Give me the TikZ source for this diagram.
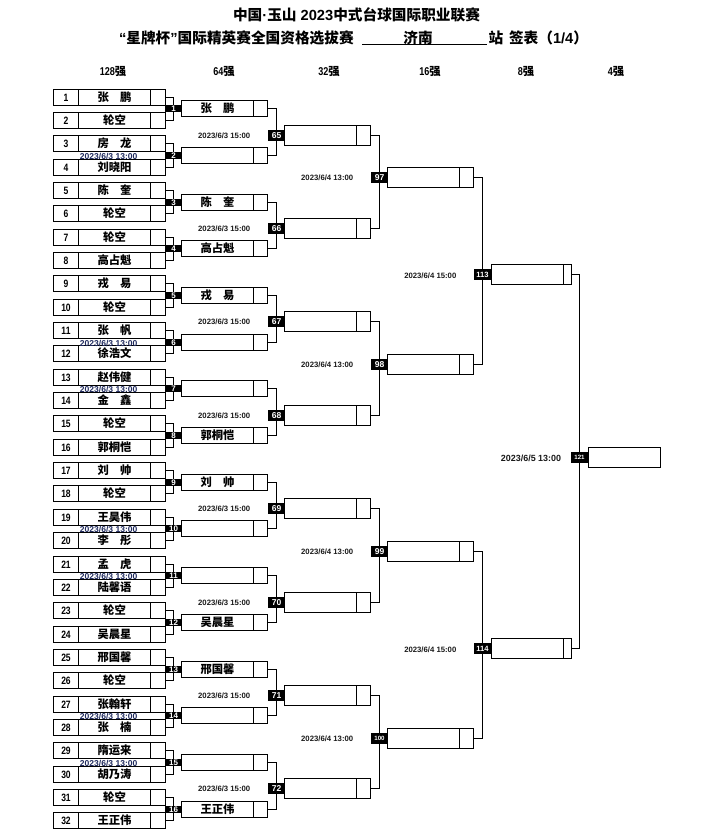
\documentclass[tikz,border=0pt]{standalone}
\usepackage{fontspec}
\setmainfont{Liberation Sans}
\newfontfamily\cjk{Noto Sans CJK SC}
\usetikzlibrary{backgrounds}
\definecolor{dnavy}{HTML}{1F2A5E}
\definecolor{dgray}{HTML}{1A1A1A}
\newcommand{\nrw}[1]{\scalebox{0.8}[1]{#1}}
\begin{document}
\begin{tikzpicture}[x=0.75pt,y=-0.75pt,
  every node/.style={inner sep=0pt,outer sep=0pt},
  bx/.style={draw=black,line width=1pt,fill=white,rectangle},
  pbox/.style={bx,minimum width=84pt,minimum height=12pt},
  wbox/.style={bx,minimum width=64.5pt,minimum height=12pt},
  tbox/.style={bx,minimum width=64.5pt,minimum height=15pt},
  ebox/.style={bx,minimum width=60pt,minimum height=15pt},
  fbox/.style={bx,minimum width=54pt,minimum height=15pt},
  labA/.style={fill=black,text=white,minimum width=12.75pt,minimum height=5.6pt,font=\bfseries\fontsize{6}{6}\selectfont},
  labB/.style={fill=black,text=white,minimum width=12.75pt,minimum height=8.25pt,font=\bfseries\fontsize{6.4}{6.4}\selectfont},
  nm/.style={font=\cjk\bfseries\fontsize{8.5}{9}\selectfont},
  nb/.style={font=\bfseries\fontsize{8}{8}\selectfont},
  dA/.style={text=dnavy,font=\bfseries\fontsize{6.4}{7}\selectfont},
  dB/.style={text=dgray,font=\bfseries\fontsize{5.8}{6}\selectfont},
  hd/.style={font=\bfseries\fontsize{8.5}{9}\selectfont},
  cn/.style={line width=1pt},
  ttl/.style={font=\bfseries\fontsize{11}{12}\selectfont},
]
\useasboundingbox (0,0) rectangle (704,839);
\begin{pgfonlayer}{background}
\fill[white] (0,0) rectangle (704,839);
\end{pgfonlayer}

% titles
\node[ttl] (t1) at (356.5,15) {{\cjk 中国}·{\cjk 玉山} 2023{\cjk 中式台球国际职业联赛}};
\node[ttl,anchor=west] (t2) at (119,38) {“{\cjk 星牌杯}”{\cjk 国际精英赛全国资格选拔赛}};
\node[ttl] (t3) at (418,38) {\cjk 济南};
\node[ttl,anchor=west] (t4) at (488.5,38) {\cjk 站};
\node[ttl,anchor=west] (t5) at (509,38) {{\cjk 签表（}1/4{\cjk ）}};
\draw[line width=1pt] (362,44.5) -- (487,44.5);

% headers
\node[hd] (h1) at (113,72) {\nrw{128}{\cjk 强}};
\node[hd] (h2) at (224,72) {\nrw{64}{\cjk 强}};
\node[hd] (h3) at (329,72) {\nrw{32}{\cjk 强}};
\node[hd] (h4) at (430,72) {\nrw{16}{\cjk 强}};
\node[hd] (h5) at (526,72) {\nrw{8}{\cjk 强}};
\node[hd] (h6) at (616,72) {\nrw{4}{\cjk 强}};

% 128 column
\foreach \ii/\nme in {1/张\quad 鹏,2/轮空,3/房\quad 龙,4/刘晓阳,5/陈\quad 奎,6/轮空,7/轮空,8/高占魁,9/戎\quad 易,10/轮空,11/张\quad 帆,12/徐浩文,13/赵伟健,14/金\quad 鑫,15/轮空,16/郭桐恺,17/刘\quad 帅,18/轮空,19/王昊伟,20/李\quad 彤,21/孟\quad 虎,22/陆馨语,23/轮空,24/吴晨星,25/邢国馨,26/轮空,27/张翰轩,28/张\quad 楠,29/隋运来,30/胡乃涛,31/轮空,32/王正伟}{
  \pgfmathsetmacro\yy{floor(97+(\ii-1)*23.35)+0.5}
  \node[pbox] (p\ii) at (109.5,\yy) {};
  \draw[cn] ([xshift=18.75pt]p\ii.north west) -- ([xshift=18.75pt]p\ii.south west);
  \draw[cn] ([xshift=-11.25pt]p\ii.north east) -- ([xshift=-11.25pt]p\ii.south east);
  \node[nb] (pn\ii) at (66,\yy) {\nrw{\ii}};
  \node[nm] (pm\ii) at (114.5,\yy) {\nme};
}

% 64 column
\foreach \ka/\nme in {1/张\quad 鹏,2/{},3/陈\quad 奎,4/高占魁,5/戎\quad 易,6/{},7/{},8/郭桐恺,9/刘\quad 帅,10/{},11/{},12/吴晨星,13/邢国馨,14/{},15/{},16/王正伟}{
  \pgfmathsetmacro\yy{floor(97+(2*\ka-1.5)*23.35)+0.5}
  \node[wbox] (w\ka) at (224.5,\yy) {};
  \draw[cn] ([xshift=-10.5pt]w\ka.north east) -- ([xshift=-10.5pt]w\ka.south east);
  \node[nm] (wm\ka) at (217.5,\yy) {\nme};
  \node[labA] (a\ka) at (173.5,\yy) {\ka};
}
\foreach \ka in {2,6,7,10,11,14,15}{
  \pgfmathsetmacro\yy{97+(2*\ka-1.5)*23.35+1}
  \node[dA] (da\ka) at (108.7,\yy) {2023/6/3 13:00};
}

% 32 column
\foreach \ja in {1,...,8}{
  \pgfmathsetmacro\yy{floor(97+(4*\ja-2.5)*23.35+3)+0.5}
  \pgfmathtruncatemacro\mn{64+\ja}
  \node[tbox] (t\ja) at (327.5,\yy) {};
  \draw[cn] ([xshift=-10.5pt]t\ja.north east) -- ([xshift=-10.5pt]t\ja.south east);
  \node[labB] (b\ja) at (276.5,\yy) {\mn};
  \node[dB] (db\ja) at (224.2,\yy+0.5) {2023/6/3 15:00};
}

% 16 column
\foreach \ra/\fs in {1/6.4,2/6.4,3/6.4,4/4.6}{
  \pgfmathsetmacro\yy{floor(97+(8*\ra-4.5)*23.35-1)+0.5}
  \pgfmathtruncatemacro\mn{96+\ra}
  \node[tbox] (s\ra) at (430.5,\yy) {};
  \draw[cn] ([xshift=-10.5pt]s\ra.north east) -- ([xshift=-10.5pt]s\ra.south east);
  \node[labB,font=\bfseries\fontsize{\fs}{\fs}\selectfont] (c\ra) at (379.5,\yy) {\mn};
  \node[dB] (dc\ra) at (327.2,\yy) {2023/6/4 13:00};
}

% 8 column
\foreach \pa in {1,2}{
  \pgfmathsetmacro\yy{floor(97+(16*\pa-8.5)*23.35+2.5)+0.5}
  \pgfmathtruncatemacro\mn{112+\pa}
  \node[ebox] (e\pa) at (531.5,\yy) {};
  \draw[cn] ([xshift=-6pt]e\pa.north east) -- ([xshift=-6pt]e\pa.south east);
  \node[labB,minimum width=13.3pt,font=\bfseries\fontsize{5.7}{5.7}\selectfont] (g\pa) at (482.5,\yy) {\mn};
  \node[dB] (dg\pa) at (430.3,\yy+1) {2023/6/4 15:00};
}

% final
\node[fbox] (f) at (624.5,457.5) {};
\node[labB,font=\bfseries\fontsize{4.6}{4.6}\selectfont] (hh) at (579.5,457.5) {121};
\node[text=dgray,font=\bfseries\fontsize{6.7}{7}\selectfont] (dh) at (531,458) {2023/6/5 13:00};

% connectors
\begin{pgfonlayer}{background}
\foreach \ka in {1,...,16}{
  \pgfmathtruncatemacro\ia{2*\ka-1}
  \pgfmathtruncatemacro\ib{2*\ka}
  \draw[cn] (p\ia.east) -- (p\ia.east -| a\ka.center) -- (p\ib.east -| a\ka.center) -- (p\ib.east);
}
\foreach \ja in {1,...,8}{
  \pgfmathtruncatemacro\ia{2*\ja-1}
  \pgfmathtruncatemacro\ib{2*\ja}
  \draw[cn] (w\ia.east) -- (w\ia.east -| b\ja.center) -- (w\ib.east -| b\ja.center) -- (w\ib.east);
}
\foreach \ra in {1,...,4}{
  \pgfmathtruncatemacro\ia{2*\ra-1}
  \pgfmathtruncatemacro\ib{2*\ra}
  \draw[cn] (t\ia.east) -- (t\ia.east -| c\ra.center) -- (t\ib.east -| c\ra.center) -- (t\ib.east);
}
\foreach \pa in {1,2}{
  \pgfmathtruncatemacro\ia{2*\pa-1}
  \pgfmathtruncatemacro\ib{2*\pa}
  \draw[cn] (s\ia.east) -- (s\ia.east -| g\pa.center) -- (s\ib.east -| g\pa.center) -- (s\ib.east);
}
\draw[cn] (e1.east) -- (e1.east -| hh.center) -- (e2.east -| hh.center) -- (e2.east);
\end{pgfonlayer}
\end{tikzpicture}
\end{document}
